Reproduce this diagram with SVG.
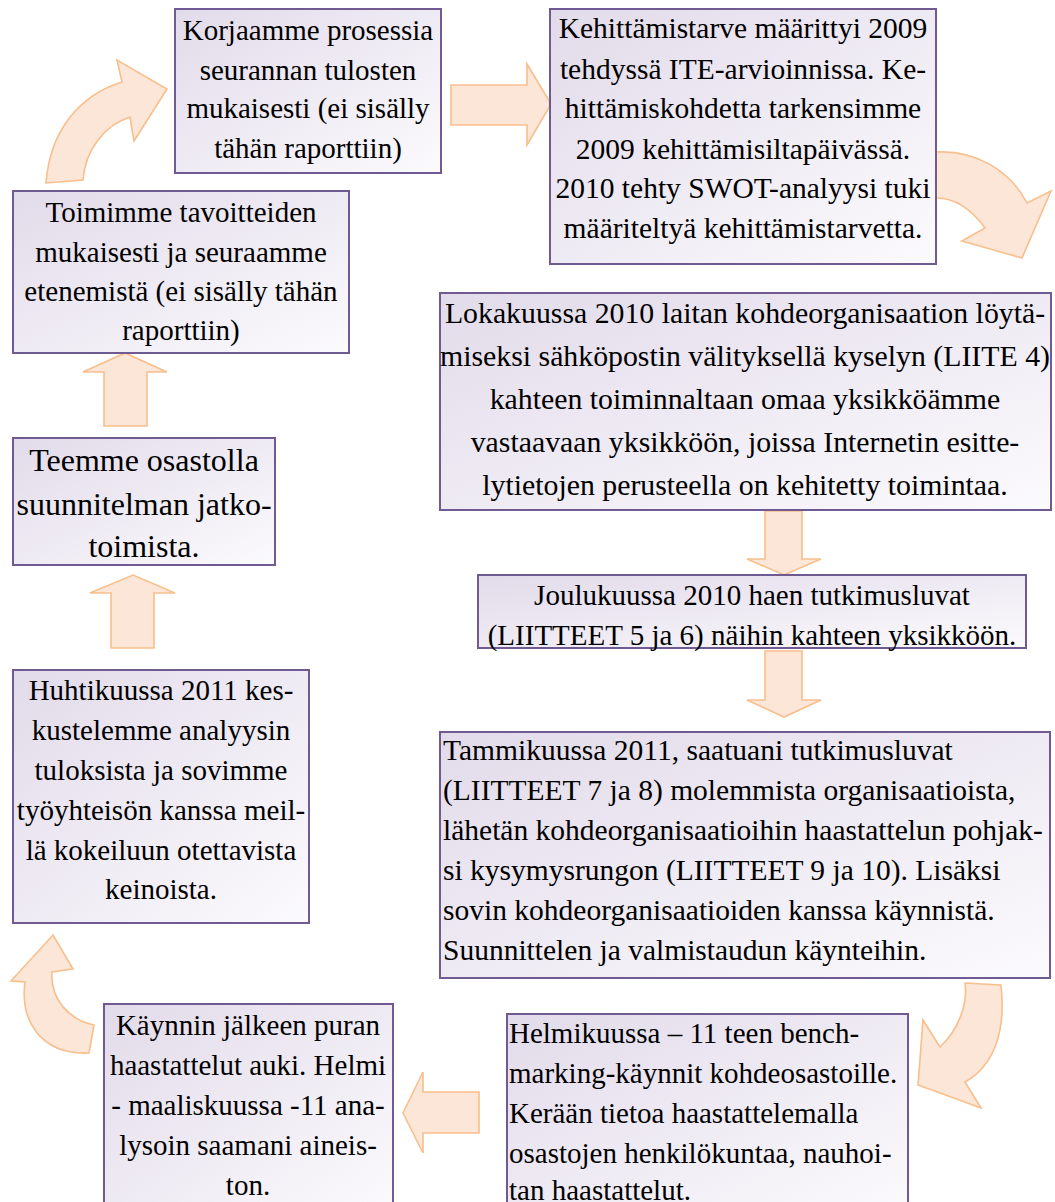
<svg xmlns="http://www.w3.org/2000/svg" width="1055" height="1202" viewBox="0 0 1055 1202">
<defs>
<linearGradient id="bg" x1="0" y1="0" x2="1" y2="1">
<stop offset="0" stop-color="#e2dbea"/>
<stop offset="1" stop-color="#fbfafd"/>
</linearGradient>
<style>
.box{fill:url(#bg);stroke:#6f5a91;stroke-width:2}
.arr{fill:#fce6d7;stroke:#f8bf8c;stroke-width:1.6;stroke-linejoin:miter}
text{font-family:"Liberation Serif","Times New Roman",serif;font-size:29px;fill:#000}
.c{text-anchor:middle}
</style>
</defs>
<rect width="1055" height="1202" fill="#fff"/>
<g id="connectors">
<path class="arr" d="M451,85 L527,85 L527,64 L551,104 L527,145 L527,125 L451,125 Z"/>
<path class="arr" d="M936,152 C975,150 1010,170 1027,203 L1051,191 L1022,258 L962,241 L985,228 C972,210 955,198 936,198 Z"/>
<path class="arr" d="M765,511 L802,511 L802,559 L821,559 L784,575 L747,559 L765,559 Z"/>
<path class="arr" d="M765,651 L802,651 L802,700 L821,700 L784,717 L747,700 L765,700 Z"/>
<path class="arr" d="M965,983 L1001,985 C1006,1030 995,1065 965,1082 L981,1108 L918,1085 L923,1020 L940,1047 C958,1030 968,1005 965,983 Z"/>
<path class="arr" d="M479,1092 L423,1092 L423,1072 L403,1113 L423,1153 L423,1133 L479,1133 Z"/>
<path class="arr" d="M94,1025 L89,1053 C40,1055 20,1020 25,982 L11,981 L53,935 L73,969 L52,972 C50,1000 70,1020 94,1025 Z"/>
<path class="arr" d="M147,426 L104,426 L104,372 L83,372 L125,353 L167,372 L147,372 Z"/>
<path class="arr" d="M154,648 L111,648 L111,593 L90,593 L133,575 L175,593 L154,593 Z"/>
<path class="arr" d="M46,183 C50,130 80,95 122,82 L117,60 L167,89 L134,141 L130,117 C105,125 85,150 83,180 Z"/>
</g>
<g id="nodeA">
<rect class="box" x="175" y="9" width="266" height="164"/>
<text class="c" x="308" y="40">Korjaamme prosessia</text>
<text class="c" x="308" y="80">seurannan tulosten</text>
<text class="c" x="308" y="118">mukaisesti (ei sisälly</text>
<text class="c" x="308" y="158">tähän raporttiin)</text>
</g>
<g id="nodeB">
<rect class="box" x="550" y="9" width="386" height="255"/>
<text class="c" x="743" y="38" style="font-size:29.5px">Kehittämistarve määrittyi 2009</text>
<text class="c" x="743" y="79" style="font-size:29.5px">tehdyssä ITE-arvioinnissa. Ke-</text>
<text class="c" x="743" y="118" style="font-size:29.5px">hittämiskohdetta tarkensimme</text>
<text class="c" x="743" y="159" style="font-size:29.5px">2009 kehittämisiltapäivässä.</text>
<text class="c" x="743" y="198" style="font-size:29.5px">2010 tehty SWOT-analyysi tuki</text>
<text class="c" x="743" y="238" style="font-size:29.5px">määriteltyä kehittämistarvetta.</text>
</g>
<g id="nodeC">
<rect class="box" x="440" y="293" width="611" height="217"/>
<text class="c" x="745" y="323" style="font-size:29.8px">Lokakuussa 2010 laitan kohdeorganisaation löytä-</text>
<text class="c" x="745" y="366" style="font-size:29.8px">miseksi sähköpostin välityksellä kyselyn (LIITE 4)</text>
<text class="c" x="745" y="409" style="font-size:29.8px">kahteen toiminnaltaan omaa yksikköämme</text>
<text class="c" x="745" y="452" style="font-size:29.8px">vastaavaan yksikköön, joissa Internetin esitte-</text>
<text class="c" x="745" y="495" style="font-size:29.8px">lytietojen perusteella on kehitetty toimintaa.</text>
</g>
<g id="nodeD">
<rect class="box" x="478" y="575" width="548" height="73"/>
<text class="c" x="752" y="605">Joulukuussa 2010 haen tutkimusluvat</text>
<text class="c" x="752" y="645">(LIITTEET 5 ja 6) näihin kahteen yksikköön.</text>
</g>
<g id="nodeE">
<rect class="box" x="440" y="732" width="610" height="246"/>
<text x="443" y="760" style="font-size:29.5px">Tammikuussa 2011, saatuani tutkimusluvat</text>
<text x="443" y="800" style="font-size:29.5px">(LIITTEET 7 ja 8) molemmista organisaatioista,</text>
<text x="443" y="840" style="font-size:29.5px">lähetän kohdeorganisaatioihin haastattelun pohjak-</text>
<text x="443" y="880" style="font-size:29.5px">si kysymysrungon (LIITTEET 9 ja 10). Lisäksi</text>
<text x="443" y="920" style="font-size:29.5px">sovin kohdeorganisaatioiden kanssa käynnistä.</text>
<text x="443" y="960" style="font-size:29.5px">Suunnittelen ja valmistaudun käynteihin.</text>
</g>
<g id="nodeF">
<rect class="box" x="507" y="1014" width="401" height="200"/>
<text x="509" y="1043">Helmikuussa – 11 teen bench-</text>
<text x="509" y="1083">marking-käynnit kohdeosastoille.</text>
<text x="509" y="1123">Kerään tietoa haastattelemalla</text>
<text x="509" y="1163">osastojen henkilökuntaa, nauhoi-</text>
<text x="509" y="1200">tan haastattelut.</text>
</g>
<g id="nodeJ">
<rect class="box" x="104" y="1004" width="289" height="210"/>
<text class="c" x="248" y="1035">Käynnin jälkeen puran</text>
<text class="c" x="248" y="1075">haastattelut auki. Helmi</text>
<text class="c" x="248" y="1115">- maaliskuussa -11 ana-</text>
<text class="c" x="248" y="1155">lysoin saamani aineis-</text>
<text class="c" x="248" y="1195">ton.</text>
</g>
<g id="nodeI">
<rect class="box" x="13" y="670" width="296" height="253"/>
<text class="c" x="161" y="700">Huhtikuussa 2011 kes-</text>
<text class="c" x="161" y="740">kustelemme analyysin</text>
<text class="c" x="161" y="780">tuloksista ja sovimme</text>
<text class="c" x="161" y="820">työyhteisön kanssa meil-</text>
<text class="c" x="161" y="860">lä kokeiluun otettavista</text>
<text class="c" x="161" y="899">keinoista.</text>
</g>
<g id="nodeH">
<rect class="box" x="13" y="438" width="262" height="127"/>
<text class="c" x="144" y="471" style="font-size:32px">Teemme osastolla</text>
<text class="c" x="144" y="515" style="font-size:32px">suunnitelman jatko-</text>
<text class="c" x="144" y="557" style="font-size:32px">toimista.</text>
</g>
<g id="nodeG">
<rect class="box" x="13" y="191" width="336" height="162"/>
<text class="c" x="181" y="222">Toimimme tavoitteiden</text>
<text class="c" x="181" y="262">mukaisesti ja seuraamme</text>
<text class="c" x="181" y="301">etenemistä (ei sisälly tähän</text>
<text class="c" x="181" y="340">raporttiin)</text>
</g>
</svg>
